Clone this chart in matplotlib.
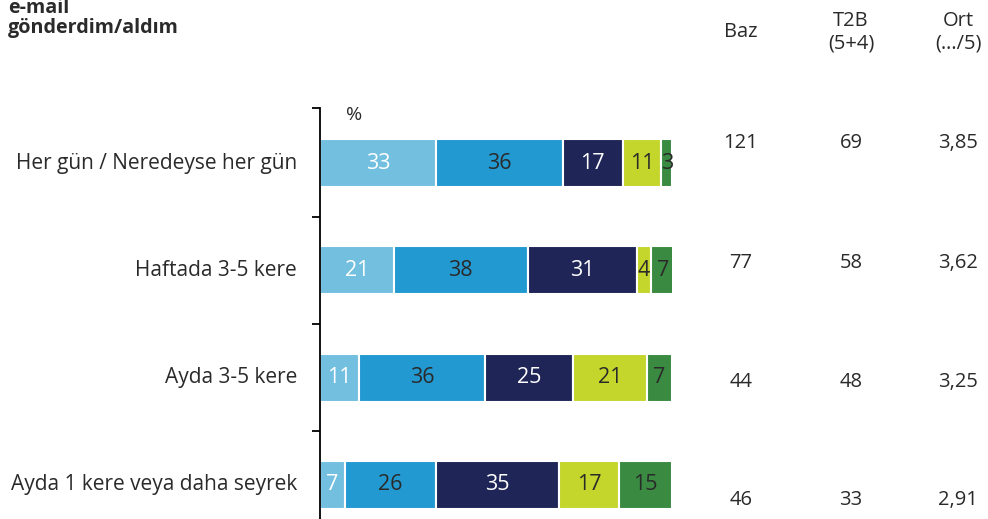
import matplotlib
matplotlib.use("Agg")
import matplotlib.pyplot as plt
import numpy as np

plt.rcParams['font.family'] = ['Open Sans', 'DejaVu Sans']

categories = ["Her gün / Neredeyse her gün", "Haftada 3-5 kere", "Ayda 3-5 kere", "Ayda 1 kere veya daha seyrek"]
s1 = [33, 21, 11, 7]
s2 = [36, 38, 36, 26]
s3 = [17, 31, 25, 35]
s4 = [11, 4, 21, 17]
s5 = [3, 7, 7, 15]
baz = ["121", "77", "44", "46"]
t2b = ["69", "58", "48", "33"]
ort = ["3,85", "3,62", "3,25", "2,91"]
title = "e-mail\ngönderdim/aldım"
col_headers = ["Baz", "T2B\n(5+4)", "Ort\n(…/5)"]

series = [s1, s2, s3, s4, s5]
colors = ["#72BFDF", "#2299D1", "#1F2557", "#C4D52B", "#3A8A41"]
txtcolors = ["white", "#2a2a2a", "white", "#2a2a2a", "#2a2a2a"]

W, H = 988, 519
fig = plt.figure(figsize=(W/100, H/100), dpi=100)

def fx(px): return px / W
def fy(py): return 1 - py / H

ax = fig.add_axes([fx(320), 0, fx(352), (H - 108) / H])
sp = 107.33
ax.set_xlim(0, 100)
ax.set_ylim(3 + 34/sp, -55/sp)
y = np.arange(len(categories))
left = np.zeros(len(categories))
fs = 15
for vals, c, tc in zip(series, colors, txtcolors):
    vals = np.array(vals, dtype=float)
    ax.barh(y, vals, left=left, height=48/sp, color=c, edgecolor="white", linewidth=1.5)
    for yi, v, l in zip(y, vals, left):
        ax.text(l + v/2, yi, f"{int(v)}", ha="center", va="center", color=tc, fontsize=15.5)
    left += vals

for s in ["top", "right", "bottom"]:
    ax.spines[s].set_visible(False)
ax.spines["left"].set_linewidth(1.3)
ax.set_xticks([])
ax.set_yticks([-55/sp, 0.5, 1.5, 2.5])
ax.set_yticklabels([])
ax.tick_params(axis="y", direction="out", length=6, width=1.3)

for yi, cat in zip(y, categories):
    ax.text(-23/3.52, yi, cat, ha="right", va="center", fontsize=fs, color="#2a2a2a")

fig.text(fx(354), fy(115), "%", ha="center", va="center", fontsize=14, color="#2a2a2a")

fig.text(fx(8), fy(33), title, ha="left", va="baseline", fontsize=14.2, fontweight="bold", color="#2a2a2a", linespacing=1.0)

col_x = [741, 851, 958]
fig.text(fx(col_x[0]), fy(32), col_headers[0], ha="center", va="center", fontsize=14.5, color="#2a2a2a")
fig.text(fx(col_x[1]), fy(32), col_headers[1], ha="center", va="center", fontsize=14.5, color="#2a2a2a", linespacing=1.2)
fig.text(fx(col_x[2]), fy(32), col_headers[2], ha="center", va="center", fontsize=14.5, color="#2a2a2a", linespacing=1.2)

row_y = [143, 263, 382, 500]
for ry, b, t, o in zip(row_y, baz, t2b, ort):
    for cx, v in zip(col_x, [b, t, o]):
        fig.text(fx(cx), fy(ry), v, ha="center", va="center", fontsize=14.5, color="#2a2a2a")

fig.savefig("out.png", dpi=100)
